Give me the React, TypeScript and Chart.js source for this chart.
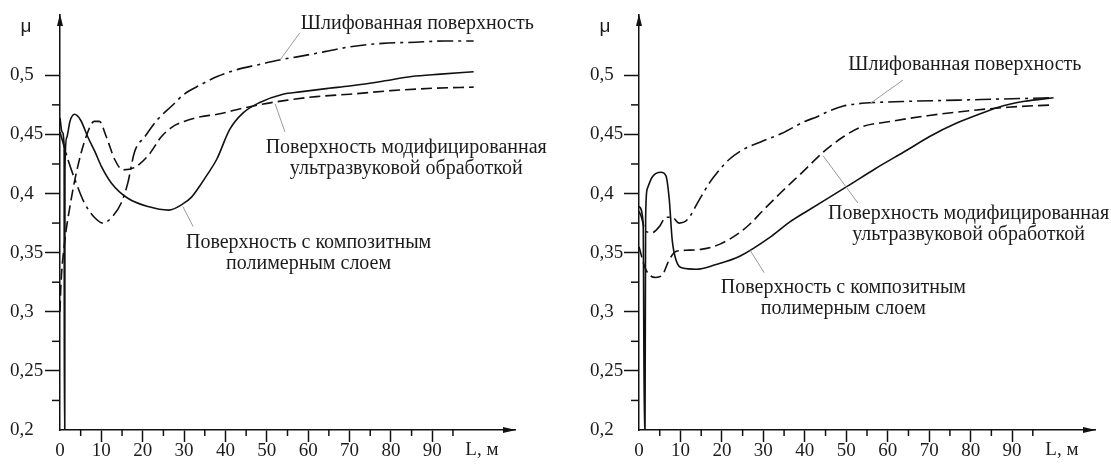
import React, { useEffect, useRef } from 'react';
import { Chart, registerables } from 'chart.js';

Chart.register(...registerables);

// ---------- axis ticks ----------
const xTickValues = [0, 10, 20, 30, 40, 50, 60, 70, 80, 90];
const xTickLabels = ['0', '10', '20', '30', '40', '50', '60', '70', '80', '90'];
const xMinorTicks = [5, 15, 25, 35, 45, 55, 65, 75, 85, 95];
const yTickValues = [0.2, 0.25, 0.3, 0.35, 0.4, 0.45, 0.5];
const yTickLabels = ['0,2', '0,25', '0,3', '0,35', '0,4', '0,45', '0,5'];
const yMinorTicks = [0.225, 0.275, 0.325, 0.375, 0.425, 0.475];
const xAxisTitle = 'L, м';
const yAxisTitle = 'μ';

// ---------- left panel ----------
// Шлифованная поверхность (dash-dot)
const leftGroundX = [0, 1.9, 3.9, 5.9, 8.3, 10.4, 12.8, 14.8, 16.4, 18, 20.5, 23.7, 27, 30, 34, 38, 43, 48, 53, 58, 64, 70, 78, 86, 93, 100];
const leftGroundY = [0.452, 0.429, 0.409, 0.392, 0.38, 0.375, 0.381, 0.392, 0.409, 0.435, 0.448, 0.463, 0.474, 0.484, 0.492, 0.499, 0.505, 0.509, 0.513, 0.516, 0.52, 0.524, 0.527, 0.528, 0.529, 0.529];
// Поверхность модифицированная ультразвуковой обработкой (dashed)
const leftUltraX = [0, 0.2, 1.0, 2.7, 4.3, 6.3, 8.3, 9.5, 11.2, 13.2, 15.2, 18, 21.3, 24.5, 27, 30, 34, 38, 44, 48, 55, 62, 70, 80, 90, 100];
const leftUltraY = [0.3, 0.321, 0.355, 0.395, 0.423, 0.448, 0.461, 0.461, 0.448, 0.429, 0.42, 0.422, 0.432, 0.448, 0.456, 0.461, 0.465, 0.467, 0.472, 0.475, 0.479, 0.482, 0.484, 0.487, 0.489, 0.49];
// Поверхность с композитным полимерным слоем (solid)
const leftPolyX = [0, 0.5, 1.0, 1.05, 1.15, 1.2, 1.6, 2.4, 3.5, 5, 6.7, 8.5, 10, 12.4, 16.4, 21.3, 26.3, 29.6, 31.8, 33.7, 35.8, 37.9, 41, 44.2, 48.3, 53.9, 58, 65, 70, 78, 85, 92, 100];
const leftPolyY = [0.464, 0.452, 0.44, 0.2, 0.2, 0.42, 0.447, 0.461, 0.467, 0.462, 0.448, 0.435, 0.423, 0.409, 0.396, 0.389, 0.386, 0.391, 0.397, 0.406, 0.417, 0.429, 0.454, 0.468, 0.477, 0.484, 0.486, 0.489, 0.491, 0.495, 0.499, 0.501, 0.503];

// ---------- right panel ----------
const rightGroundX = [0, 0.5, 1.6, 3.2, 4.9, 6.5, 8.0, 9.7, 11.7, 14.6, 17, 19.4, 21.8, 25, 29.6, 34.5, 40, 43, 46, 49.3, 53, 57, 65, 77, 88, 100];
const rightGroundY = [0.385, 0.381, 0.368, 0.367, 0.372, 0.38, 0.38, 0.375, 0.378, 0.395, 0.409, 0.42, 0.429, 0.437, 0.444, 0.451, 0.461, 0.465, 0.47, 0.474, 0.476, 0.477, 0.478, 0.479, 0.48, 0.481];
const rightUltraX = [0, 1.6, 4.0, 5.6, 7.3, 8.9, 11.3, 15.3, 19.4, 24.3, 26.7, 30, 34, 40, 44.4, 49.3, 53.4, 60.7, 70, 77, 89, 100];
const rightUltraY = [0.355, 0.336, 0.329, 0.331, 0.344, 0.351, 0.352, 0.353, 0.357, 0.367, 0.374, 0.386, 0.4, 0.42, 0.435, 0.448, 0.456, 0.461, 0.466, 0.469, 0.473, 0.475];
const rightPolyX = [0, 1.0, 1.3, 1.45, 1.6, 2.0, 3.2, 5.3, 6.5, 7.3, 8.0, 8.9, 10.5, 13.8, 18.6, 24.3, 32, 36.4, 40, 50.2, 57, 64.8, 70, 76.9, 82, 86.7, 93, 100];
const rightPolyY = [0.389, 0.375, 0.2, 0.2, 0.38, 0.404, 0.414, 0.418, 0.415, 0.395, 0.361, 0.344, 0.337, 0.336, 0.34, 0.347, 0.364, 0.376, 0.384, 0.406, 0.421, 0.437, 0.448, 0.46, 0.467, 0.473, 0.478, 0.481];

// ---------- annotation texts ----------
const groundLabel = ['Шлифованная поверхность'];
const ultraLabel = ['Поверхность модифицированная', 'ультразвуковой обработкой'];
const polyLabel = ['Поверхность с композитным', 'полимерным слоем'];

// placement of annotation texts (data units)
const leftNotes = [
  { lines: groundLabel, at: [86.4, 0.544], lead: [58.0, 0.536, 53.2, 0.513] },
  { lines: ultraLabel, at: [83.7, 0.439], lead: [52.0, 0.476, 54.4, 0.452] },
  { lines: polyLabel, at: [60.1, 0.358], lead: [29.7, 0.389, 32.2, 0.372] },
];
const rightNotes = [
  { lines: groundLabel, at: [78.6, 0.509], lead: [63.7, 0.496, 55.7, 0.476] },
  { lines: ultraLabel, at: [79.5, 0.383], lead: [44.4, 0.432, 52.8, 0.392] },
  { lines: polyLabel, at: [49.3, 0.32], lead: [26.8, 0.352, 30.2, 0.333] },
];

const INK = '#111111';
const TEXT = '#1c1c1c';
const LEAD = '#9a9a9a';
const SERIF = '"Liberation Serif", "Times New Roman", serif';

type Note = { lines: string[]; at: number[]; lead: number[] };

function pts(xs: number[], ys: number[]) {
  return xs.map((x, i) => ({ x, y: ys[i] }));
}

function makeDecor(notes: Note[]) {
  return {
    id: 'decor',
    afterDraw(chart: any) {
      const { ctx, chartArea: ca, scales } = chart;
      const x = scales.x;
      const y = scales.y;
      ctx.save();
      ctx.strokeStyle = INK;
      ctx.lineWidth = 1.5;
      // minor ticks
      yMinorTicks.forEach((v) => {
        const py = y.getPixelForValue(v);
        ctx.beginPath();
        ctx.moveTo(ca.left - 8, py);
        ctx.lineTo(ca.left, py);
        ctx.stroke();
      });
      xMinorTicks.forEach((v) => {
        const px = x.getPixelForValue(v);
        ctx.beginPath();
        ctx.moveTo(px, ca.bottom);
        ctx.lineTo(px, ca.bottom + 6);
        ctx.stroke();
      });
      // arrows
      ctx.fillStyle = INK;
      ctx.beginPath();
      ctx.moveTo(ca.left, ca.top - 1);
      ctx.lineTo(ca.left - 3, ca.top + 11);
      ctx.lineTo(ca.left + 3, ca.top + 11);
      ctx.closePath();
      ctx.fill();
      ctx.beginPath();
      ctx.moveTo(ca.right + 1, ca.bottom);
      ctx.lineTo(ca.right - 12, ca.bottom - 3);
      ctx.lineTo(ca.right - 12, ca.bottom + 3);
      ctx.closePath();
      ctx.fill();
      // axis titles
      ctx.fillStyle = TEXT;
      ctx.textAlign = 'center';
      ctx.textBaseline = 'middle';
      ctx.font = '19px "Liberation Sans", Arial, sans-serif';
      ctx.fillText(yAxisTitle, ca.left - 34, ca.top + 12);
      ctx.font = '19px ' + SERIF;
      ctx.fillText(xAxisTitle, x.getPixelForValue(102), ca.bottom + 20);
      // annotations
      notes.forEach((n) => {
        ctx.strokeStyle = LEAD;
        ctx.lineWidth = 1;
        ctx.beginPath();
        ctx.moveTo(x.getPixelForValue(n.lead[0]), y.getPixelForValue(n.lead[1]));
        ctx.lineTo(x.getPixelForValue(n.lead[2]), y.getPixelForValue(n.lead[3]));
        ctx.stroke();
        ctx.fillStyle = TEXT;
        ctx.font = '20px ' + SERIF;
        const cx = x.getPixelForValue(n.at[0]);
        const cy = y.getPixelForValue(n.at[1]);
        n.lines.forEach((line, i) => ctx.fillText(line, cx, cy + i * 21));
      });
      ctx.restore();
    },
  };
}

function buildChart(canvas: HTMLCanvasElement, series: { x: number[]; y: number[] }[], notes: Note[], padLeft: number, padRight: number, yWidth: number) {
  const dashes = [[16, 5, 3, 5], [11, 5], []];
  return new Chart(canvas, {
    type: 'line',
    data: {
      datasets: series.map((s, i) => ({
        data: pts(s.x, s.y),
        borderColor: INK,
        borderWidth: 1.6,
        borderDash: dashes[i],
        pointRadius: 0,
        fill: false,
        cubicInterpolationMode: 'monotone' as const,
      })),
    },
    options: {
      animation: false,
      responsive: false,
      devicePixelRatio: 1,
      layout: { padding: { left: padLeft, right: padRight, top: 15, bottom: 0 } },
      plugins: { legend: { display: false }, tooltip: { enabled: false } },
      scales: {
        x: {
          type: 'linear',
          min: 0,
          max: 110,
          afterBuildTicks: (s: any) => {
            s.ticks = xTickValues.map((v) => ({ value: v }));
          },
          afterFit: (s: any) => {
            s.height = 37;
          },
          grid: {
            drawOnChartArea: false,
            drawTicks: true,
            tickLength: 12,
            tickWidth: 1.5,
            tickColor: (c: any) => (c.index === 0 ? 'rgba(0,0,0,0)' : INK),
          },
          border: { display: true, color: INK, width: 1.5 },
          ticks: {
            autoSkip: false,
            maxRotation: 0,
            padding: 0,
            color: TEXT,
            font: { family: SERIF, size: 19, lineHeight: 1 },
            callback: (_v: any, i: number) => xTickLabels[i],
          },
        },
        y: {
          type: 'linear',
          min: 0.2,
          max: 0.551,
          afterBuildTicks: (s: any) => {
            s.ticks = yTickValues.map((v) => ({ value: v }));
          },
          afterFit: (s: any) => {
            s.width = yWidth;
          },
          grid: {
            drawOnChartArea: false,
            drawTicks: true,
            tickLength: 15,
            tickWidth: 1.5,
            tickColor: (c: any) => (c.index === 0 ? 'rgba(0,0,0,0)' : INK),
          },
          border: { display: true, color: INK, width: 1.5 },
          ticks: {
            autoSkip: false,
            crossAlign: 'far',
            padding: 2,
            color: TEXT,
            font: { family: SERIF, size: 19, lineHeight: 1 },
            callback: (_v: any, i: number) => yTickLabels[i],
          },
        },
      },
    } as any,
    plugins: [makeDecor(notes)],
  });
}

export default function App() {
  const leftRef = useRef<HTMLCanvasElement>(null);
  const rightRef = useRef<HTMLCanvasElement>(null);

  useEffect(() => {
    const left = buildChart(
      leftRef.current!,
      [
        { x: leftGroundX, y: leftGroundY },
        { x: leftUltraX, y: leftUltraY },
        { x: leftPolyX, y: leftPolyY },
      ],
      leftNotes,
      10,
      40,
      50
    );
    const right = buildChart(
      rightRef.current!,
      [
        { x: rightGroundX, y: rightGroundY },
        { x: rightUltraX, y: rightUltraY },
        { x: rightPolyX, y: rightPolyY },
      ],
      rightNotes,
      35,
      16,
      49
    );
    return () => {
      left.destroy();
      right.destroy();
    };
  }, []);

  return (
    <div style={{ position: 'fixed', left: 0, top: 0, width: 1111, height: 467, background: '#fff' }}>
      <canvas ref={leftRef} width={555} height={467} style={{ position: 'absolute', left: 0, top: 0, width: 555, height: 467 }} />
      <canvas ref={rightRef} width={556} height={467} style={{ position: 'absolute', left: 555, top: 0, width: 556, height: 467 }} />
    </div>
  );
}
